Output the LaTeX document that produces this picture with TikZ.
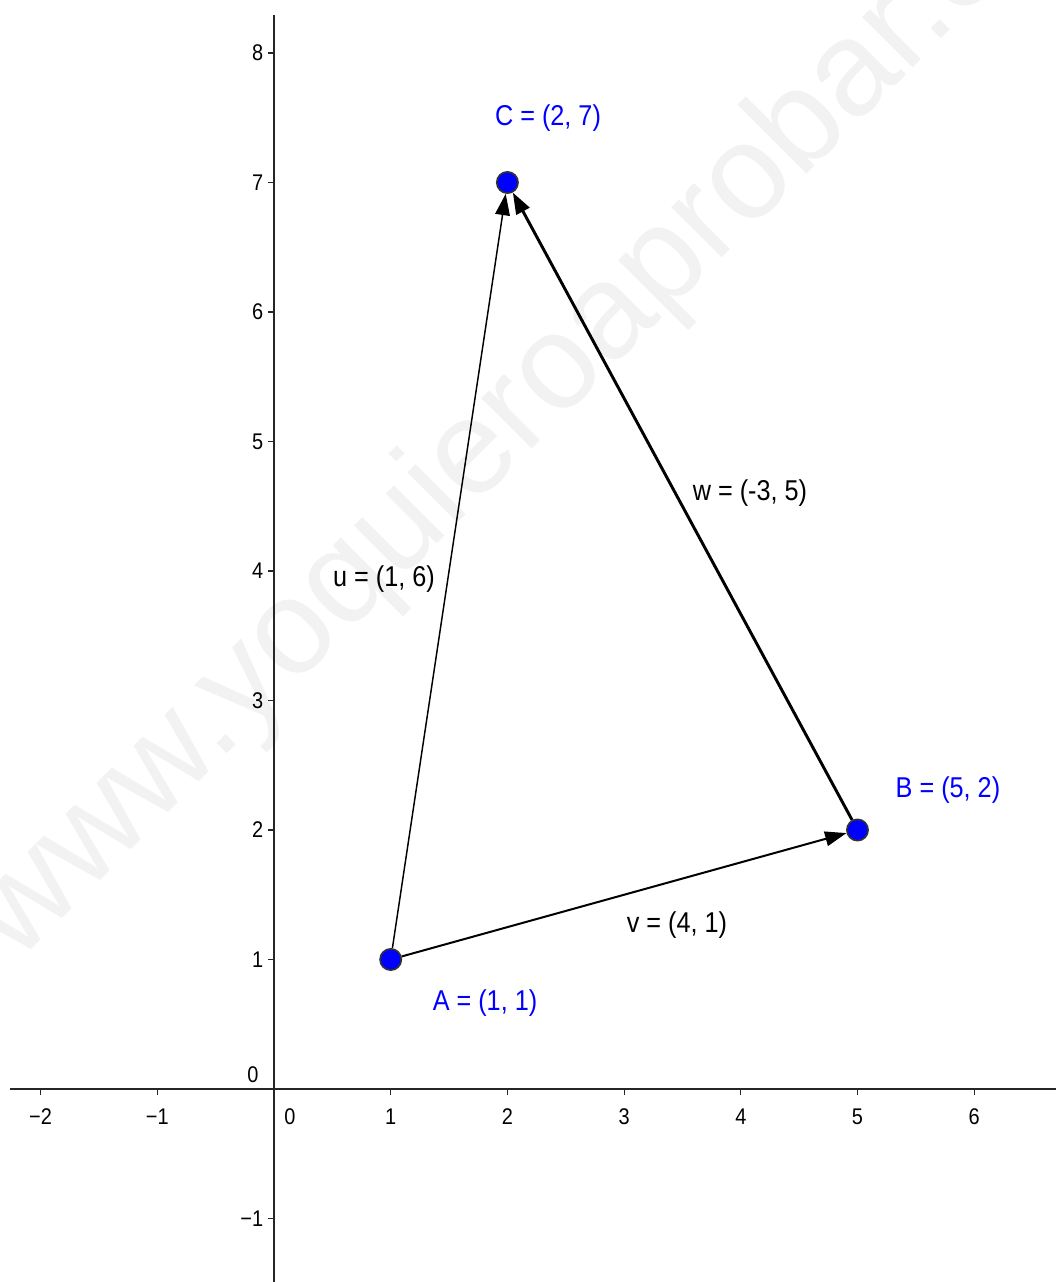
\documentclass[tikz,border=0pt]{standalone}
\usepackage{fontspec}
\setmainfont{Liberation Sans}
\newfontfamily\labfont{Liberation Sans}[FakeStretch=0.88]
\usetikzlibrary{arrows.meta}
\definecolor{ptblue}{RGB}{0,0,255}
\definecolor{wmgray}{RGB}{242,242,242}
\begin{document}
\begin{tikzpicture}[x=87.525pt,y=97.125pt,
  axislab/.style={font=\labfont\fontsize{17}{17}\selectfont, inner sep=0pt},
  ptlab/.style={font=\labfont\fontsize{21.5}{21.5}\selectfont, text=ptblue, inner sep=0pt},
  veclab/.style={font=\labfont\fontsize{21.5}{21.5}\selectfont, text=black, inner sep=0pt},
  ptdot/.style={circle, fill=ptblue, draw=black!80, line width=1.2pt, minimum size=16pt, inner sep=0pt},
  vec/.style={-{Triangle[length=16pt,width=11pt]}, black}]
\useasboundingbox (-2.3479,-1.4903) rectangle (6.7009,8.4093);
% watermark
\node[font=\fontsize{101}{101}\selectfont, text=wmgray, rotate=45, inner sep=0pt] (wm) at (2.057,5.185) {www.yoquieroaprobar.es};
% axes
\coordinate (xl) at (-2.262,0);
\coordinate (xr) at (6.7009,0);
\coordinate (yt) at (0,8.293);
\coordinate (yb) at (0,-1.4903);
\draw[line width=1.8pt, black!85] (xl) -- (xr);
\draw[line width=1.1pt, black!85] (yt) -- (yb);
\foreach \i/\t in {-2/{−2},-1/{−1},1/1,2/2,3/3,4/4,5/5,6/6}{
  \draw[line width=0.8pt, black!85] (\i,0) -- (\i,-0.045);
  \node[axislab] (xt\i) at (\i,-0.216) {\t};
}
\node[axislab] (xt0) at (0.137,-0.216) {0};
\foreach \i/\t in {-1/{−1},1/1,2/2,3/3,4/4,5/5,6/6,7/7,8/8}{
  \draw[line width=0.8pt, black!85] (0,\i) -- (-0.05,\i);
  \node[axislab, anchor=east] (yt\i) at (-0.09,\i) {\t};
}
\node[axislab] (yt0) at (-0.18,0.108) {0};
% points
\node[ptdot] (A) at (1,1) {};
\node[ptdot] (B) at (5,2) {};
\node[ptdot] (C) at (2,7) {};
% vectors
\draw[vec, line width=1.1pt] (A) -- (C);
\draw[vec, line width=1.5pt] (A) -- (B);
\draw[vec, line width=2.2pt] (B) -- (C);
% labels
\node[ptlab] (Al) at (1.808,0.664) {A = (1, 1)};
\node[ptlab] (Bl) at (5.775,2.309) {B = (5, 2)};
\node[ptlab] (Cl) at (2.348,7.498) {C = (2, 7)};
\node[veclab] (ul) at (0.943,3.938) {u = (1, 6)};
\node[veclab] (wl) at (4.079,4.602) {w = (-3, 5)};
\node[veclab] (vl) at (3.453,1.266) {v = (4, 1)};
\end{tikzpicture}
\end{document}
